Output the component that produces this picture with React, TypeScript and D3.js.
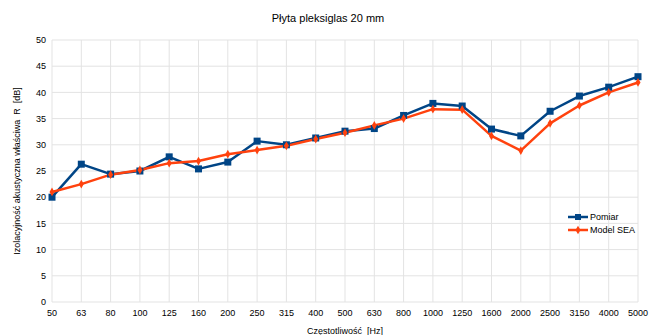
import React, { useEffect, useRef } from 'react';
import * as d3 from 'd3';

const categories = ['50', '63', '80', '100', '125', '160', '200', '250', '315', '400', '500', '630', '800', '1000', '1250', '1600', '2000', '2500', '3150', '4000', '5000'];
const pomiar = [20.0, 26.3, 24.4, 25.0, 27.7, 25.4, 26.7, 30.7, 30.0, 31.3, 32.6, 33.1, 35.6, 37.9, 37.4, 33.0, 31.7, 36.4, 39.3, 41.0, 43.0];
const modelSea = [21.0, 22.5, 24.3, 25.2, 26.5, 26.9, 28.2, 29.0, 29.8, 31.1, 32.3, 33.7, 35.0, 36.8, 36.7, 31.7, 28.9, 34.1, 37.5, 40.0, 41.9];
const yTicks = [0, 5, 10, 15, 20, 25, 30, 35, 40, 45, 50];
const seriesNames = ['Pomiar', 'Model SEA'];

const W = 655;
const H = 335;
const margin = { top: 40, right: 17, bottom: 33, left: 52 };
const FONT = '"Liberation Sans", Arial, sans-serif';

export default function App() {
    const ref = useRef<SVGSVGElement>(null);

    useEffect(() => {
        const svg = d3.select(ref.current);
        svg.selectAll('*').remove();

        const width = W - margin.left - margin.right;
        const height = H - margin.top - margin.bottom;
        const g = svg.append('g').attr('transform', 'translate(' + margin.left + ',' + margin.top + ')');

        const x = d3.scalePoint<string>().domain(categories).range([0, width]).padding(0);
        const y = d3.scaleLinear().domain([0, 50]).range([height, 0]);

        // grid
        g.append('g')
            .selectAll('line')
            .data(yTicks)
            .join('line')
            .attr('x1', 0).attr('x2', width)
            .attr('y1', d => y(d)).attr('y2', d => y(d))
            .attr('stroke', '#e3e3e3').attr('stroke-width', 1);
        g.append('g')
            .selectAll('line')
            .data(categories)
            .join('line')
            .attr('x1', d => x(d)!).attr('x2', d => x(d)!)
            .attr('y1', 0).attr('y2', height)
            .attr('stroke', '#e3e3e3').attr('stroke-width', 1);

        // y tick labels
        g.append('g')
            .selectAll('text')
            .data(yTicks)
            .join('text')
            .attr('x', -6)
            .attr('y', d => y(d))
            .attr('dy', '0.35em')
            .attr('text-anchor', 'end')
            .attr('font-family', FONT)
            .attr('font-size', 9)
            .attr('fill', '#000')
            .text(d => d);

        // x tick labels
        g.append('g')
            .selectAll('text')
            .data(categories)
            .join('text')
            .attr('x', d => x(d)!)
            .attr('y', height + 14)
            .attr('text-anchor', 'middle')
            .attr('font-family', FONT)
            .attr('font-size', 9)
            .attr('fill', '#000')
            .text(d => d);

        // titles
        svg.append('text')
            .attr('x', 328).attr('y', 22)
            .attr('text-anchor', 'middle')
            .attr('font-family', FONT).attr('font-size', 11)
            .text('Płyta pleksiglas 20 mm');
        svg.append('text')
            .attr('transform', 'translate(20,' + (margin.top + height / 2) + ') rotate(-90)')
            .attr('text-anchor', 'middle')
            .attr('font-family', FONT).attr('font-size', 9)
            .style('white-space', 'pre')
            .text('Izolacyjność akustyczna właściwa  R  [dB]');
        svg.append('text')
            .attr('x', margin.left + width / 2).attr('y', 334)
            .attr('text-anchor', 'middle')
            .attr('font-family', FONT).attr('font-size', 9)
            .style('white-space', 'pre')
            .text('Częstotliwość  [Hz]');

        const line = d3.line<number>()
            .x((d, i) => x(categories[i])!)
            .y(d => y(d));

        const colors = ['#004586', '#ff420e'];
        const data = [pomiar, modelSea];

        data.forEach((vals, si) => {
            g.append('path')
                .datum(vals)
                .attr('d', line)
                .attr('fill', 'none')
                .attr('stroke', colors[si])
                .attr('stroke-width', 2.5)
                .attr('stroke-linejoin', 'round');
        });

        // markers: squares for Pomiar, diamonds for Model SEA
        g.append('g')
            .selectAll('rect')
            .data(pomiar)
            .join('rect')
            .attr('x', (d, i) => x(categories[i])! - 3.5)
            .attr('y', d => y(d) - 3.5)
            .attr('width', 7).attr('height', 7)
            .attr('fill', colors[0]);

        const diamond = d3.symbol().type(d3.symbolDiamond).size(22);
        g.append('g')
            .selectAll('path')
            .data(modelSea)
            .join('path')
            .attr('transform', (d, i) => 'translate(' + x(categories[i]) + ',' + y(d) + ')')
            .attr('d', diamond)
            .attr('fill', colors[1]);

        // legend
        const leg = svg.append('g').attr('transform', 'translate(568,217)');
        seriesNames.forEach((name, i) => {
            const row = leg.append('g').attr('transform', 'translate(0,' + i * 13 + ')');
            row.append('line')
                .attr('x1', 0).attr('x2', 20)
                .attr('stroke', colors[i]).attr('stroke-width', 2.5);
            if (i === 0) {
                row.append('rect').attr('x', 7).attr('y', -3).attr('width', 6).attr('height', 6).attr('fill', colors[i]);
            } else {
                row.append('path').attr('transform', 'translate(10,0)').attr('d', diamond).attr('fill', colors[i]);
            }
            row.append('text')
                .attr('x', 22).attr('y', 0).attr('dy', '0.35em')
                .attr('font-family', FONT).attr('font-size', 9)
                .text(name);
        });
    }, []);

    return (
        <svg ref={ref} width={W} height={H}
            style={{ position: 'absolute', left: 0, top: 0, background: '#fff' }} />
    );
}
